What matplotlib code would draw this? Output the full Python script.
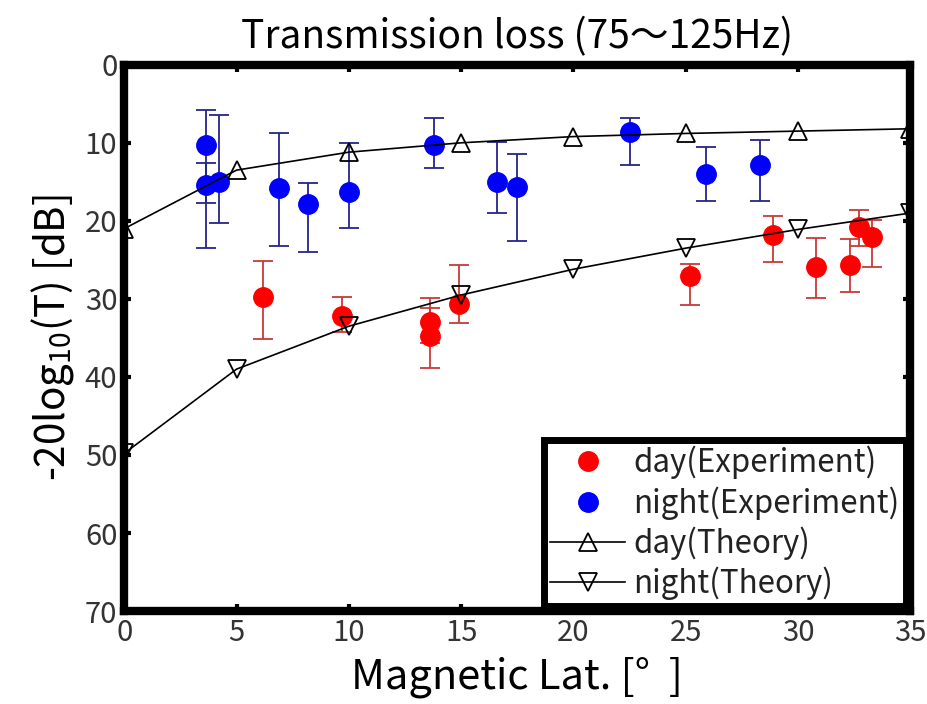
import matplotlib
matplotlib.use("Agg")
import matplotlib.pyplot as plt
import numpy as np

# Theory curves (markers every 5 degrees)
theory_lat = [0, 5, 10, 15, 20, 25, 30, 35]
day_theory = [21.0, 13.5, 11.2, 10.0, 9.2, 8.8, 8.5, 8.2]
night_theory = [49.8, 39.0, 33.5, 29.5, 26.2, 23.5, 21.1, 19.0]

# Night experiment (blue)
night_lat = [3.66, 3.66, 4.2, 6.9, 8.2, 10.0, 13.8, 16.6, 17.5, 22.5, 25.9, 28.3]
night_val = [10.3, 15.4, 15.0, 15.8, 17.8, 16.3, 10.3, 15.0, 15.7, 8.6, 14.0, 12.8]
night_top = [5.8, 12.6, 6.5, 8.7, 15.1, 10.0, 6.8, 9.9, 11.4, 6.8, 10.6, 9.7]
night_bot = [23.5, 17.7, 20.3, 23.2, 24.0, 20.9, 13.2, 19.0, 22.6, 12.9, 17.4, 17.4]

# Day experiment (red)
day_lat = [6.2, 9.7, 13.6, 13.6, 14.9, 25.2, 28.9, 30.8, 32.3, 32.7, 33.3]
day_val = [29.7, 32.2, 32.9, 34.8, 30.7, 27.1, 21.8, 25.9, 25.6, 20.8, 22.1]
day_top = [25.1, 29.7, 29.9, 31.2, 25.6, 25.5, 19.4, 22.2, 22.3, 18.6, 19.9]
day_bot = [35.1, 34.3, 35.6, 38.8, 33.1, 30.8, 25.3, 29.9, 29.1, 23.2, 25.9]

plt.rcParams['font.family'] = ['Noto Sans CJK JP', 'DejaVu Sans']
plt.rcParams['mathtext.fontset'] = 'custom'
plt.rcParams['mathtext.rm'] = 'Noto Sans CJK JP'

fig = plt.figure(figsize=(9.27, 7.04), dpi=100)
ax = fig.add_axes([0.134, 0.132, 0.848, 0.776])

nv = np.array(night_val)
dv = np.array(day_val)
ax.errorbar(night_lat, nv, yerr=[nv - np.array(night_top), np.array(night_bot) - nv],
            fmt='none', ecolor='#25258a', elinewidth=1.3, capsize=7, capthick=1.3, zorder=2)
ax.errorbar(day_lat, dv, yerr=[dv - np.array(day_top), np.array(day_bot) - dv],
            fmt='none', ecolor='#c83a3a', elinewidth=1.3, capsize=7, capthick=1.3, zorder=2)

h1, = ax.plot(day_lat, day_val, 'o', color='#ff0000', markersize=14, linestyle='none',
              label='day(Experiment)', zorder=3)
h2, = ax.plot(night_lat, night_val, 'o', color='#0000ff', markersize=14, linestyle='none',
              label='night(Experiment)', zorder=3)
h3, = ax.plot(theory_lat, day_theory, '-^', color='black', linewidth=1.2, markersize=13,
              markerfacecolor='none', markeredgecolor='black', markeredgewidth=1.3,
              label='day(Theory)', zorder=4)
h4, = ax.plot(theory_lat, night_theory, '-v', color='black', linewidth=1.2, markersize=13,
              markerfacecolor='none', markeredgecolor='black', markeredgewidth=1.3,
              label='night(Theory)', zorder=4)

ax.set_xlim(0, 35)
ax.set_ylim(70, 0)
ax.set_xticks(range(0, 36, 5))
ax.set_yticks(range(0, 71, 10))

for s in ax.spines.values():
    s.set_linewidth(6)
ax.tick_params(direction='in', length=5, width=3, top=True, right=True,
               labelsize=21, pad=5, colors='black', labelcolor='#333333')

ax.set_xlabel('Magnetic Lat. [°  ]', fontsize=30, labelpad=6)
ax.set_ylabel(r'-20log$_{\mathregular{10}}$(T) [dB]', fontsize=29, labelpad=6)
ax.set_title('Transmission loss (75～125Hz)', fontsize=28, pad=12)

leg = ax.legend(handles=[h1, h2, h3, h4], loc='lower right', fontsize=22.5,
                frameon=True, fancybox=False, borderpad=0.2, labelspacing=0.22,
                handlelength=2.4, handletextpad=0.25, borderaxespad=0.15)
fr = leg.get_frame()
fr.set_edgecolor('black')
fr.set_linewidth(5)
fr.set_alpha(1)
for t in leg.get_texts():
    t.set_color('#222222')

fig.savefig('out.png', dpi=100)
